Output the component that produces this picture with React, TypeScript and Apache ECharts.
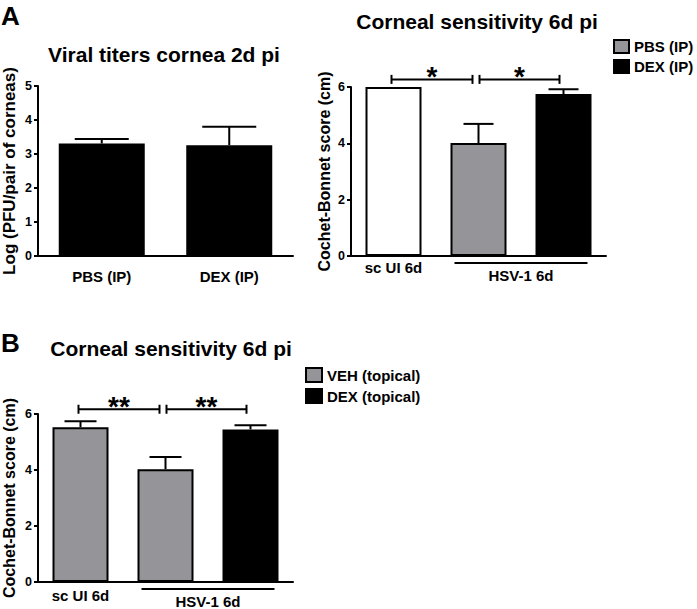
import React, { useEffect, useRef } from "react";
import * as echarts from "echarts";

const FONT = '"Liberation Sans", Arial, Helvetica, sans-serif';
const GREY = "#959599";

// ---------- Panel A (left): Viral titers ----------
const A_LEFT_CATEGORIES = ["PBS (IP)", "DEX (IP)"];
const A_LEFT_MEANS = [3.31, 3.26];
const A_LEFT_SEM = [0.13, 0.54];

// ---------- Panel A (right): Corneal sensitivity ----------
const A_RIGHT_CATEGORIES = ["sc UI 6d", "HSV-1 PBS (IP)", "HSV-1 DEX (IP)"];
const A_RIGHT_TICK_LABELS = ["sc UI 6d", "", ""];
const A_RIGHT_UNINFECTED = [6.0, null, null];
const A_RIGHT_PBS = [null, 4.01, null];
const A_RIGHT_DEX = [null, null, 5.75];
const A_RIGHT_SEM = [0, 0.68, 0.17];
const A_RIGHT_SIG_PAIRS = [
  [0, 1],
  [1, 2],
];
const A_RIGHT_SIG_LEVEL = 6.27;
const A_RIGHT_SIG_MARKS = ["*", "*"];
const A_RIGHT_GROUP_SPAN = [1, 2];
const A_RIGHT_GROUP_LABEL = "HSV-1 6d";

// ---------- Panel B: Corneal sensitivity (topical) ----------
const B_CATEGORIES = ["sc UI 6d", "HSV-1 VEH (topical)", "HSV-1 DEX (topical)"];
const B_TICK_LABELS = ["sc UI 6d", "", ""];
const B_VEH = [5.53, 4.03, null];
const B_DEX = [null, null, 5.45];
const B_SEM = [0.21, 0.43, 0.15];
const B_SIG_PAIRS = [
  [0, 1],
  [1, 2],
];
const B_SIG_LEVEL = 6.17;
const B_SIG_MARKS = ["**", "**"];
const B_GROUP_SPAN = [1, 2];
const B_GROUP_LABEL = "HSV-1 6d";

const meanOf = (a: (number | null)[], b: (number | null)[] = [], c: (number | null)[] = []) =>
  a.map((v, i) => (v != null ? v : b[i] != null ? b[i] : c[i] != null ? c[i] : null));

const errData = (means: (number | null)[], sem: number[]) =>
  means
    .map((m, i) => (m != null && sem[i] > 0 ? [i, m, m + sem[i]] : null))
    .filter((d) => d != null);

const errorRender = (capHalf: number) => (params: any, api: any) => {
  const base = api.coord([api.value(0), api.value(1)]);
  const top = api.coord([api.value(0), api.value(2)]);
  const style = { stroke: "#000", lineWidth: 2 };
  return {
    type: "group",
    children: [
      { type: "line", shape: { x1: base[0], y1: base[1], x2: top[0], y2: top[1] }, style },
      { type: "line", shape: { x1: top[0] - capHalf, y1: top[1], x2: top[0] + capHalf, y2: top[1] }, style },
    ],
  };
};

const bracketRender = (marks: string[]) => (params: any, api: any) => {
  const p1 = api.coord([api.value(0), api.value(2)]);
  const p2 = api.coord([api.value(1), api.value(2)]);
  const first = params.dataIndex === 0;
  const x1 = p1[0] + (first ? -2 : 1);
  const x2 = p2[0] + (first ? -6 : -4);
  const y = p1[1];
  const style = { stroke: "#000", lineWidth: 2 };
  return {
    type: "group",
    children: [
      { type: "line", shape: { x1, y1: y, x2, y2: y }, style },
      { type: "line", shape: { x1, y1: y - 4.5, x2: x1, y2: y + 4.5 }, style },
      { type: "line", shape: { x1: x2, y1: y - 4.5, x2, y2: y + 4.5 }, style },
      {
        type: "text",
        style: {
          text: marks[params.dataIndex],
          x: (x1 + x2) / 2,
          y: y - 3,
          align: "center",
          verticalAlign: "middle",
          font: `bold 28px ${FONT}`,
          fill: "#000",
        },
      },
    ],
  };
};

const groupRender = (label: string) => (params: any, api: any) => {
  const a = api.coord([api.value(0), 0]);
  const b = api.coord([api.value(1), 0]);
  const y0 = a[1];
  return {
    type: "group",
    children: [
      { type: "line", shape: { x1: a[0] - 24, y1: y0 + 7, x2: b[0] + 24, y2: y0 + 7 }, style: { stroke: "#000", lineWidth: 2 } },
      {
        type: "text",
        style: {
          text: label,
          x: (a[0] + b[0]) / 2,
          y: y0 + 19.5,
          align: "center",
          verticalAlign: "middle",
          font: `bold 15px ${FONT}`,
          fill: "#000",
        },
      },
    ],
  };
};

const xAxisBase = (gridIndex: number, data: string[], labels: string[], margin: number) => ({
  type: "category",
  gridIndex,
  data,
  axisLine: { lineStyle: { color: "#000", width: 2 } },
  axisTick: { show: false },
  axisLabel: {
    color: "#000",
    fontSize: 15,
    fontWeight: "bold",
    fontFamily: FONT,
    margin,
    formatter: (_v: string, i: number) => labels[i],
  },
  splitLine: { show: false },
});

const yAxisBase = (
  gridIndex: number,
  max: number,
  interval: number,
  name: string,
  nameGap: number,
  nameSize: number
) => ({
  type: "value",
  gridIndex,
  min: 0,
  max,
  interval,
  name,
  nameLocation: "middle",
  nameGap,
  nameTextStyle: { fontSize: nameSize, fontWeight: "bold", color: "#000", fontFamily: FONT },
  axisLine: { show: true, lineStyle: { color: "#000", width: 2 } },
  axisTick: { show: true, length: 4, lineStyle: { color: "#000", width: 2 } },
  axisLabel: { color: "#000", fontSize: 12.5, fontWeight: "bold", fontFamily: FONT, margin: 6 },
  splitLine: { show: false },
});

const barBase = (name: string, xi: number, data: (number | null)[], color: string, width: number) => ({
  type: "bar",
  name,
  xAxisIndex: xi,
  yAxisIndex: xi,
  data,
  barWidth: width,
  barGap: "-100%",
  itemStyle: { color, borderColor: "#000", borderWidth: 2 },
  emphasis: { disabled: true },
});

const textEl = (text: string, x: number, y: number, size: number, align = "center") => ({
  type: "text",
  x,
  y,
  style: {
    text,
    font: `bold ${size}px ${FONT}`,
    fill: "#000",
    align,
    verticalAlign: "middle",
  },
});

export default function App() {
  const ref = useRef<HTMLDivElement>(null);

  useEffect(() => {
    document.body.style.margin = "0";
    if (!ref.current) return;
    const chart = echarts.init(ref.current, undefined, { renderer: "svg" });

    const option: any = {
      animation: false,
      backgroundColor: "#fff",
      textStyle: { fontFamily: FONT },
      grid: [
        { left: 38, top: 86, width: 255, height: 170 },
        { left: 351, top: 87, width: 255, height: 169 },
        { left: 37, top: 414, width: 256, height: 168 },
      ],
      xAxis: [
        xAxisBase(0, A_LEFT_CATEGORIES, A_LEFT_CATEGORIES, 13),
        xAxisBase(1, A_RIGHT_CATEGORIES, A_RIGHT_TICK_LABELS, 4),
        xAxisBase(2, B_CATEGORIES, B_TICK_LABELS, 6),
      ],
      yAxis: [
        yAxisBase(0, 5, 1, "Log (PFU/pair of corneas)", 20, 17),
        yAxisBase(1, 6, 2, "Cochet-Bonnet score (cm)", 19, 16),
        yAxisBase(2, 6, 2, "Cochet-Bonnet score (cm)", 21, 16),
      ],
      legend: [
        {
          data: ["PBS (IP)", "DEX (IP)"],
          orient: "vertical",
          left: 613,
          top: 39,
          padding: 0,
          itemWidth: 15,
          itemHeight: 13,
          itemGap: 5,
          icon: "rect",
          selectedMode: false,
          textStyle: { fontSize: 15, fontWeight: "bold", color: "#000", fontFamily: FONT },
        },
        {
          data: ["VEH (topical)", "DEX (topical)"],
          orient: "vertical",
          left: 305,
          top: 367,
          padding: 0,
          itemWidth: 16,
          itemHeight: 14,
          itemGap: 5,
          icon: "rect",
          selectedMode: false,
          textStyle: { fontSize: 15, fontWeight: "bold", color: "#000", fontFamily: FONT },
        },
      ],
      graphic: {
        elements: [
          textEl("A", 1, 16, 26, "left"),
          textEl("B", 1, 343, 26, "left"),
          textEl("Viral titers cornea 2d pi", 164, 54, 21),
          textEl("Corneal sensitivity 6d pi", 477, 21, 21),
          textEl("Corneal sensitivity 6d pi", 171, 348, 21),
        ],
      },
      series: [
        // Panel A left
        barBase("Viral titers", 0, A_LEFT_MEANS, "#000", 86),
        {
          type: "custom",
          xAxisIndex: 0,
          yAxisIndex: 0,
          data: errData(A_LEFT_MEANS, A_LEFT_SEM),
          encode: { x: 0, y: [1, 2] },
          renderItem: errorRender(27),
          clip: false,
          z: 3,
        },
        // Panel A right
        barBase("sc UI 6d (A)", 1, A_RIGHT_UNINFECTED, "#fff", 56),
        barBase("PBS (IP)", 1, A_RIGHT_PBS, GREY, 56),
        barBase("DEX (IP)", 1, A_RIGHT_DEX, "#000", 56),
        {
          type: "custom",
          xAxisIndex: 1,
          yAxisIndex: 1,
          data: errData(meanOf(A_RIGHT_UNINFECTED, A_RIGHT_PBS, A_RIGHT_DEX), A_RIGHT_SEM),
          encode: { x: 0, y: [1, 2] },
          renderItem: errorRender(15),
          clip: false,
          z: 3,
        },
        {
          type: "custom",
          xAxisIndex: 1,
          yAxisIndex: 1,
          data: A_RIGHT_SIG_PAIRS.map((p) => [p[0], p[1], A_RIGHT_SIG_LEVEL]),
          encode: { x: [0, 1], y: 2 },
          renderItem: bracketRender(A_RIGHT_SIG_MARKS),
          clip: false,
          z: 3,
        },
        {
          type: "custom",
          xAxisIndex: 1,
          yAxisIndex: 1,
          data: [[A_RIGHT_GROUP_SPAN[0], A_RIGHT_GROUP_SPAN[1], 0]],
          encode: { x: [0, 1], y: 2 },
          renderItem: groupRender(A_RIGHT_GROUP_LABEL),
          clip: false,
          z: 3,
        },
        // Panel B
        barBase("VEH (topical)", 2, B_VEH, GREY, 56),
        barBase("DEX (topical)", 2, B_DEX, "#000", 56),
        {
          type: "custom",
          xAxisIndex: 2,
          yAxisIndex: 2,
          data: errData(meanOf(B_VEH, B_DEX), B_SEM),
          encode: { x: 0, y: [1, 2] },
          renderItem: errorRender(16),
          clip: false,
          z: 3,
        },
        {
          type: "custom",
          xAxisIndex: 2,
          yAxisIndex: 2,
          data: B_SIG_PAIRS.map((p) => [p[0], p[1], B_SIG_LEVEL]),
          encode: { x: [0, 1], y: 2 },
          renderItem: bracketRender(B_SIG_MARKS),
          clip: false,
          z: 3,
        },
        {
          type: "custom",
          xAxisIndex: 2,
          yAxisIndex: 2,
          data: [[B_GROUP_SPAN[0], B_GROUP_SPAN[1], 0]],
          encode: { x: [0, 1], y: 2 },
          renderItem: groupRender(B_GROUP_LABEL),
          clip: false,
          z: 3,
        },
      ],
    };

    chart.setOption(option);
    return () => chart.dispose();
  }, []);

  return <div ref={ref} style={{ width: 697, height: 609 }} />;
}
